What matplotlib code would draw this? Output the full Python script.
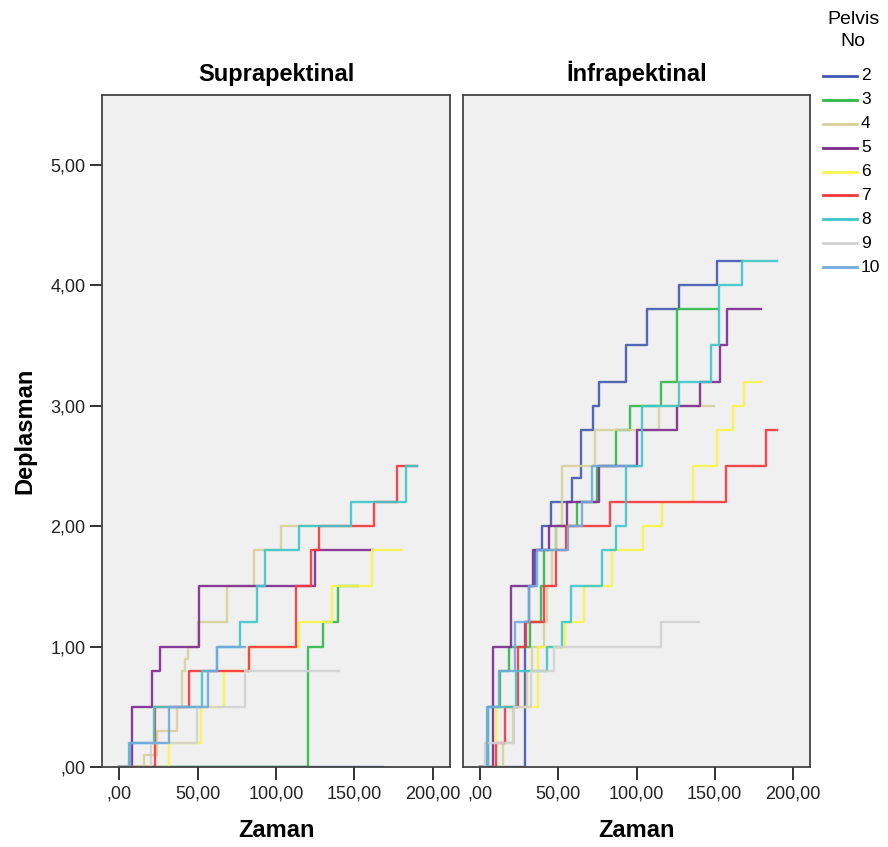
import matplotlib
matplotlib.use("Agg")
import matplotlib.pyplot as plt
from matplotlib.lines import Line2D

plt.rcParams['font.family'] = ['Liberation Sans', 'DejaVu Sans']

pelvis = ['2', '3', '4', '5', '6', '7', '8', '9', '10']
colors = ['#4159b0', '#2fb84a', '#d6d19c', '#7d2b8f', '#f8f54c',
          '#f5363f', '#3fc6c8', '#d2d2d2', '#72a9de']

# Suprapektinal: zaman (t) / deplasman (d), step changes
sup2_t = [0, 168]
sup2_d = [0, 0]
sup3_t = [0, 120.3, 130, 139.5, 152]
sup3_d = [0, 1.0, 1.2, 1.5, 1.5]
sup4_t = [0, 15.5, 24, 37, 40, 42, 44, 50, 69, 86, 103, 125]
sup4_d = [0, 0.1, 0.3, 0.5, 0.8, 0.9, 1.0, 1.2, 1.5, 1.8, 2.0, 2.0]
sup5_t = [0, 8, 21, 26, 51, 125, 162]
sup5_d = [0, 0.5, 0.8, 1.0, 1.5, 1.8, 1.8]
sup6_t = [0, 32, 52, 67, 83, 114.5, 136, 161.5, 179.5]
sup6_d = [0, 0.2, 0.5, 0.8, 1.0, 1.2, 1.5, 1.8, 1.8]
sup7_t = [0, 23, 44.3, 82.6, 112.9, 122.4, 127.3, 162.5, 177.4, 190]
sup7_d = [0, 0.5, 0.8, 1.0, 1.5, 1.8, 2.0, 2.2, 2.5, 2.5]
sup8_t = [0, 6, 22, 52.8, 62.4, 77.3, 88, 93.3, 114.5, 147.6, 182.7, 190.2]
sup8_d = [0, 0.2, 0.5, 0.8, 1.0, 1.2, 1.5, 1.8, 2.0, 2.2, 2.5, 2.5]
sup9_t = [0, 20, 49.6, 80.5, 140]
sup9_d = [0, 0.2, 0.5, 0.8, 0.8]
sup10_t = [0, 6.6, 31.5, 56.4, 62.4, 80]
sup10_d = [0, 0.2, 0.5, 0.8, 1.0, 1.0]

# Infrapektinal
inf2_t = [0, 28.8, 31.3, 35.2, 39.4, 45.2, 58.6, 64.4, 72.3, 76.1, 93.2, 106.4, 127.2, 151.7, 167.7]
inf2_d = [0, 1.2, 1.5, 1.8, 2.0, 2.2, 2.4, 2.8, 3.0, 3.2, 3.5, 3.8, 4.0, 4.2, 4.2]
inf3_t = [0, 5.1, 12.8, 18.5, 32, 39, 40.9, 48.4, 62.2, 75, 87.2, 95.7, 115.5, 126.2, 151.7]
inf3_d = [0, 0.5, 0.8, 1.0, 1.2, 1.5, 1.8, 2.0, 2.2, 2.5, 2.8, 3.0, 3.2, 3.8, 3.8]
inf4_t = [0, 14.3, 21.3, 30, 33, 41, 43, 46, 48.4, 52.2, 73.5, 114.5, 149.6]
inf4_d = [0, 0.2, 0.5, 0.8, 1.0, 1.2, 1.5, 1.8, 2.0, 2.5, 2.8, 3.0, 3.0]
inf5_t = [0, 7.9, 20, 34.1, 44.1, 55.8, 76.1, 100.6, 126.2, 140.5, 153.2, 158.2, 179.5]
inf5_d = [0, 1.0, 1.5, 1.8, 2.0, 2.2, 2.5, 2.8, 3.0, 3.2, 3.5, 3.8, 3.8]
inf6_t = [0, 10, 36.7, 54, 66.5, 84.6, 104.4, 116.6, 136.4, 151.7, 161.8, 168.8, 179.5]
inf6_d = [0, 0.5, 1.0, 1.2, 1.5, 1.8, 2.0, 2.2, 2.5, 2.8, 3.0, 3.2, 3.2]
inf7_t = [0, 10, 15.8, 23.9, 29.2, 40.9, 48.4, 54.8, 82.9, 157.1, 183.1, 190.1]
inf7_d = [0, 0.2, 0.5, 1.0, 1.2, 1.5, 1.8, 2.0, 2.2, 2.5, 2.8, 2.8]
inf8_t = [0, 4.7, 22.8, 43, 52.6, 58.4, 77.8, 87.2, 93.6, 103.8, 127.2, 147.5, 152.8, 167.7, 190.1]
inf8_d = [0, 0.5, 0.8, 1.0, 1.2, 1.5, 1.8, 2.0, 2.5, 3.0, 3.2, 3.5, 4.0, 4.2, 4.2]
inf9_t = [0, 3, 21.7, 32.4, 47.3, 115.5, 140]
inf9_d = [0, 0.2, 0.5, 0.8, 1.0, 1.2, 1.2]
inf10_t = [0, 4.3, 12, 22.4, 31.3, 36.4, 56.3, 65.4, 71.8, 93]
inf10_d = [0, 0.5, 0.8, 1.2, 1.5, 1.8, 2.0, 2.2, 2.5, 2.5]

sup = [(sup2_t, sup2_d), (sup3_t, sup3_d), (sup4_t, sup4_d), (sup5_t, sup5_d),
       (sup6_t, sup6_d), (sup7_t, sup7_d), (sup8_t, sup8_d), (sup9_t, sup9_d),
       (sup10_t, sup10_d)]
inf = [(inf2_t, inf2_d), (inf3_t, inf3_d), (inf4_t, inf4_d), (inf5_t, inf5_d),
       (inf6_t, inf6_d), (inf7_t, inf7_d), (inf8_t, inf8_d), (inf9_t, inf9_d),
       (inf10_t, inf10_d)]

xticks = [0, 50, 100, 150, 200]
yticks = [0, 1, 2, 3, 4, 5]


def tr(v):
    s = f"{v:.2f}".replace('.', ',')
    if s.startswith('0,'):
        s = s[1:]
    return s


W, H = 888, 847
fig = plt.figure(figsize=(W / 100, H / 100), dpi=100)
ax1 = fig.add_axes([102 / W, 1 - 767 / H, 348 / W, 672 / H])
ax2 = fig.add_axes([463 / W, 1 - 767 / H, 347 / W, 672 / H])

for ax, data, title in [(ax1, sup, 'Suprapektinal'), (ax2, inf, 'İnfrapektinal')]:
    ax.set_facecolor('#f0f0f0')
    for (t, d), c in zip(data, colors):
        ax.plot(t, d, drawstyle='steps-post', color=c, lw=1.7, alpha=0.9)
    ax.set_xlim(-11, 211)
    ax.set_ylim(0, 5.58)
    ax.set_xticks(xticks)
    ax.set_xticklabels([tr(v) for v in xticks], fontsize=13, color='#222222')
    ax.tick_params(axis='x', length=9, width=1.4, color='#333333', pad=4)
    ax.set_title(title, fontsize=17, fontweight='bold', pad=10)
    ax.set_xlabel('Zaman', fontsize=17, fontweight='bold', labelpad=12)
    for s in ax.spines.values():
        s.set_color('#444444')
        s.set_linewidth(1.3)

ax1.set_yticks(yticks)
ax1.set_yticklabels([tr(v) for v in yticks], fontsize=13, color='#222222')
ax1.tick_params(axis='y', length=9, width=1.4, color='#333333', pad=3)
ax1.set_ylabel('Deplasman', fontsize=17, fontweight='bold', labelpad=10)
ax2.set_yticks([])

# legend
fig.text(853 / W, 1 - 20 / H, 'Pelvis', ha='center', va='center', fontsize=14)
fig.text(853 / W, 1 - 42 / H, 'No', ha='center', va='center', fontsize=14)
for i, (lab, c) in enumerate(zip(pelvis, colors)):
    yy = 1 - (76 + 23.9 * i) / H
    fig.add_artist(Line2D([823 / W, 857 / W], [yy, yy], color=c, lw=2,
                          transform=fig.transFigure))
    fig.text(861 / W, yy, lab, ha='left', va='center', fontsize=12.5)

fig.savefig('out.png', dpi=100)
